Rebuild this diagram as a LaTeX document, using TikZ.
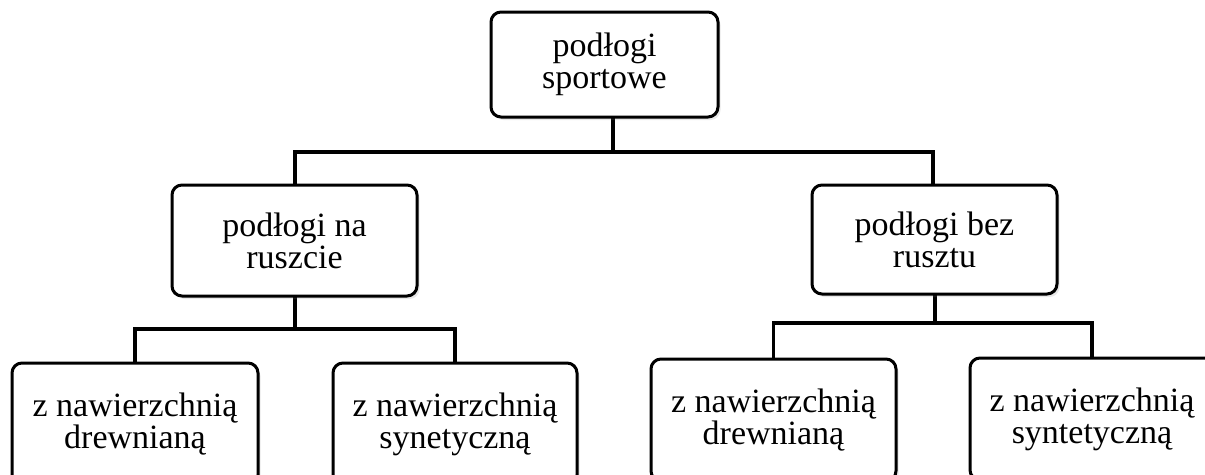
\documentclass[tikz,border=0pt]{standalone}
\usepackage{fontspec}
\setmainfont{Liberation Serif}
\usetikzlibrary{shadows}
\begin{document}
\begin{tikzpicture}[x=1pt,y=1pt,
  box/.style={draw=black, line width=3pt, rounded corners=10pt, fill=white,
    align=center, inner sep=0pt,
    font=\fontsize{34}{32}\selectfont,
    drop shadow={opacity=0.18, shadow xshift=2.5pt, shadow yshift=-3pt}},
  conn/.style={draw=black, line width=3.2pt}]
\useasboundingbox (0,0) rectangle (1205,-474);
\clip (0,0) rectangle (1205,-474);
\fill[white] (0,0) rectangle (1205,-474);
% junctions
\coordinate (j1) at (613,-152);
\coordinate (j2) at (295,-329);
\coordinate (j3) at (935,-323);
% connectors
\draw[conn] (613,-117) coordinate (t0) -- (j1);
\draw[conn] (j1) -| (295,-185) coordinate (mlN);
\draw[conn] (j1) -| (933,-185) coordinate (mrN);
\draw[conn] (295,-296) coordinate (mlS) -- (j2);
\draw[conn] (j2) -| (135,-363) coordinate (b1N);
\draw[conn] (j2) -| (455,-363) coordinate (b2N);
\draw[conn] (935,-294) coordinate (mrS) -- (j3);
\draw[conn] (j3) -| (773.5,-359) coordinate (b3N);
\draw[conn] (j3) -| (1092,-358) coordinate (b4N);
% boxes
\node[box, minimum width=227pt, minimum height=105pt] (top) at (604.5,-64.5) {podłogi\\sportowe};
\node[box, minimum width=245pt, minimum height=111pt] (midL) at (294.5,-240.5) {podłogi na\\ruszcie};
\node[box, minimum width=245pt, minimum height=109pt] (midR) at (934.5,-239.5) {podłogi bez\\rusztu};
\node[box, minimum width=246pt, minimum height=122pt] (b1) at (135,-424) {z nawierzchnią\\drewnianą};
\node[box, minimum width=244pt, minimum height=122pt] (b2) at (455,-424) {z nawierzchnią\\synetyczną};
\node[box, minimum width=245pt, minimum height=122pt] (b3) at (773.5,-420) {z nawierzchnią\\drewnianą};
\node[box, minimum width=244pt, minimum height=122pt] (b4) at (1092,-419) {z nawierzchnią\\syntetyczną};
\end{tikzpicture}
\end{document}
